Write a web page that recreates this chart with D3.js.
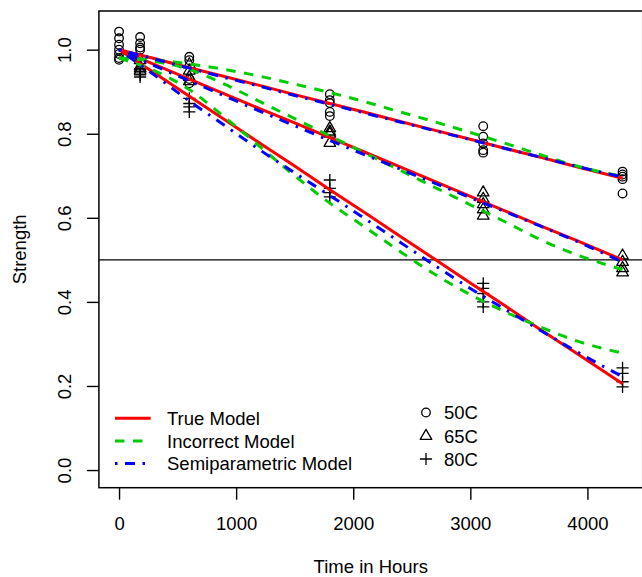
<!DOCTYPE html>
<html>
<head>
<meta charset="utf-8">
<script src="https://cdn.jsdelivr.net/npm/d3@7"></script>
<style>
  html, body { margin: 0; padding: 0; background: #ffffff; }
  svg { display: block; }
  text { font-family: "Liberation Sans", Arial, Helvetica, sans-serif; fill: #000; }
</style>
</head>
<body>
<svg id="chart" width="642" height="577"></svg>
<script>
// ---------------- data ----------------
const obsTimes = [0, 180, 600, 1800, 3110, 4300];
// observed strengths per observation time (one inner list per time)
const obs50C = [[1.043, 1.027, 1.012, 1.0, 0.99, 0.98, 0.976], [1.03, 1.015, 1.005, 1.0], [0.983, 0.975, 0.93, 0.92], [0.894, 0.88, 0.873, 0.852, 0.842], [0.818, 0.793, 0.777, 0.761, 0.755], [0.71, 0.703, 0.698, 0.692, 0.658]];
const obs65C = [[], [0.975, 0.96, 0.955, 0.95], [0.965, 0.95, 0.935, 0.925], [0.813, 0.805, 0.80, 0.778], [0.66, 0.645, 0.632, 0.62, 0.605], [0.51, 0.495, 0.48, 0.47]];
const obs80C = [[], [0.955, 0.948, 0.94, 0.935], [0.884, 0.872, 0.864, 0.852], [0.69, 0.67, 0.66, 0.65], [0.444, 0.432, 0.42, 0.40, 0.388], [0.243, 0.23, 0.21, 0.198]];

// fitted model curves
const modelTimes = [0, 300, 600, 900, 1200, 1500, 1800, 2100, 2400, 2700, 3000, 3300, 3600, 3900, 4300];
const true50C = [1.0, 0.979, 0.957, 0.936, 0.915, 0.893, 0.872, 0.851, 0.829, 0.808, 0.787, 0.765, 0.744, 0.722, 0.694];
const true65C = [1.0, 0.965, 0.930, 0.895, 0.860, 0.826, 0.791, 0.756, 0.721, 0.686, 0.651, 0.616, 0.581, 0.547, 0.500];
const true80C = [1.0, 0.945, 0.889, 0.834, 0.778, 0.723, 0.667, 0.612, 0.556, 0.501, 0.445, 0.390, 0.334, 0.279, 0.205];
const incorrect50C = [0.98, 0.976, 0.966, 0.953, 0.937, 0.918, 0.898, 0.876, 0.852, 0.828, 0.803, 0.777, 0.75, 0.724, 0.698];
const incorrect65C = [0.98, 0.972, 0.953, 0.918, 0.877, 0.836, 0.795, 0.754, 0.713, 0.672, 0.631, 0.59, 0.548, 0.513, 0.477];
const incorrect80C = [0.98, 0.95, 0.905, 0.84, 0.77, 0.70, 0.635, 0.578, 0.52, 0.465, 0.417, 0.376, 0.34, 0.308, 0.278];
const semi50C = [1.0, 0.978, 0.956, 0.934, 0.913, 0.891, 0.870, 0.849, 0.828, 0.807, 0.786, 0.765, 0.744, 0.723, 0.697];
const semi65C = [1.0, 0.962, 0.926, 0.89, 0.854, 0.819, 0.784, 0.75, 0.716, 0.682, 0.648, 0.614, 0.58, 0.545, 0.495];
const semi80C = [1.0, 0.94, 0.878, 0.82, 0.762, 0.707, 0.653, 0.598, 0.542, 0.486, 0.432, 0.382, 0.332, 0.283, 0.222];

const xTicks = [0, 1000, 2000, 3000, 4000];
const yTicks = [0.0, 0.2, 0.4, 0.6, 0.8, 1.0];
const refLevel = 0.5;
const modelNames = ["True Model", "Incorrect Model", "Semiparametric Model"];
const tempNames = ["50C", "65C", "80C"];

// ---------------- layout ----------------
const svg = d3.select("#chart");
const W = 642, H = 577;
svg.append("rect").attr("width", W).attr("height", H).attr("fill", "#fff");

const plot = { left: 98.9, right: 642.7, top: 11, bottom: 487.7 };
const x = d3.scaleLinear().domain([-172, 4472]).range([plot.left, plot.right]);
const y = d3.scaleLinear().domain([-0.042, 1.092]).range([plot.bottom, plot.top]);

const FS = 18.5;
const colors = { truth: "#FF0000", incorrect: "#00CD00", semi: "#0000FF" };
const dashes = { truth: null, incorrect: "9.5 8.5", semi: "2.5 7.5 10 7.5" };

svg.append("clipPath").attr("id", "clip").append("rect")
  .attr("x", plot.left).attr("y", plot.top)
  .attr("width", plot.right - plot.left).attr("height", plot.bottom - plot.top);

// ---------------- axes ----------------
const xAxis = d3.axisBottom(x).tickValues(xTicks).tickFormat(d3.format("d"))
  .tickSize(12).tickPadding(17);
const gx = svg.append("g").attr("transform", `translate(0,${plot.bottom})`).call(xAxis);
gx.select(".domain").remove();
gx.selectAll(".tick line").attr("stroke", "#000").attr("stroke-width", 1.4);
gx.selectAll(".tick text").attr("font-size", FS).attr("font-family", "Liberation Sans, Arial, sans-serif").attr("fill", "#000");

const yAxis = d3.axisLeft(y).tickValues(yTicks).tickFormat(d3.format(".1f")).tickSize(12);
const gy = svg.append("g").attr("transform", `translate(${plot.left},0)`).call(yAxis);
gy.select(".domain").remove();
gy.selectAll(".tick line").attr("stroke", "#000").attr("stroke-width", 1.4);
gy.selectAll(".tick text")
  .attr("font-size", FS).attr("font-family", "Liberation Sans, Arial, sans-serif").attr("fill", "#000")
  .attr("x", null).attr("dy", null).attr("y", null)
  .attr("text-anchor", "middle")
  .attr("transform", `translate(${70.7 - plot.left},0) rotate(-90)`);

svg.append("text").attr("x", (plot.left + plot.right) / 2).attr("y", 572.5)
  .attr("text-anchor", "middle").attr("font-size", FS).text("Time in Hours");
svg.append("text").attr("transform", `translate(25.7,${(plot.top + plot.bottom) / 2}) rotate(-90)`)
  .attr("text-anchor", "middle").attr("font-size", FS).text("Strength");

// ---------------- symbols ----------------
const R0 = 4.3;
function drawSymbol(g, kind, cx, cy) {
  if (kind === 0) {
    g.append("circle").attr("cx", cx).attr("cy", cy).attr("r", R0)
      .attr("fill", "none").attr("stroke", "#000").attr("stroke-width", 1.3);
  } else if (kind === 1) {
    const r = 1.5551 * R0, yc = 0.7775 * R0, xc = 1.3468 * R0;
    g.append("path").attr("d", `M${cx},${cy - r}L${cx + xc},${cy + yc}L${cx - xc},${cy + yc}Z`)
      .attr("fill", "none").attr("stroke", "#000").attr("stroke-width", 1.3).attr("stroke-linejoin", "round");
  } else {
    const s = Math.SQRT2 * R0;
    g.append("path").attr("d", `M${cx - s},${cy}H${cx + s}M${cx},${cy - s}V${cy + s}`)
      .attr("fill", "none").attr("stroke", "#000").attr("stroke-width", 1.3);
  }
}

const gPts = svg.append("g").attr("clip-path", "url(#clip)");
[obs50C, obs65C, obs80C].forEach((series, k) => {
  series.forEach((vals, i) => {
    vals.forEach(v => drawSymbol(gPts, k, x(obsTimes[i]), y(v)));
  });
});

// ---------------- reference line ----------------
svg.append("line").attr("x1", plot.left).attr("x2", plot.right)
  .attr("y1", y(refLevel)).attr("y2", y(refLevel))
  .attr("stroke", "#000").attr("stroke-width", 1.4);

// ---------------- model curves ----------------
const gLines = svg.append("g").attr("clip-path", "url(#clip)");
const lineLinear = d3.line().x((d, i) => x(modelTimes[i])).y(d => y(d));
const lineSmooth = d3.line().x((d, i) => x(modelTimes[i])).y(d => y(d)).curve(d3.curveMonotoneX);

function drawModel(vals, key, gen) {
  const p = gLines.append("path").attr("d", gen(vals))
    .attr("fill", "none").attr("stroke", colors[key]).attr("stroke-width", 3);
  if (dashes[key]) p.attr("stroke-dasharray", dashes[key]);
}
[true50C, true65C, true80C].forEach(v => drawModel(v, "truth", lineLinear));
[incorrect50C, incorrect65C, incorrect80C].forEach(v => drawModel(v, "incorrect", lineSmooth));
[semi50C, semi65C, semi80C].forEach(v => drawModel(v, "semi", lineSmooth));

// ---------------- legends ----------------
const legY = [418.3, 441, 463.5];
["truth", "incorrect", "semi"].forEach((key, i) => {
  const l = svg.append("line").attr("x1", 115).attr("x2", 150.7)
    .attr("y1", legY[i]).attr("y2", legY[i])
    .attr("stroke", colors[key]).attr("stroke-width", 3);
  if (dashes[key]) l.attr("stroke-dasharray", dashes[key]);
  svg.append("text").attr("x", 167).attr("y", legY[i] + 6.6)
    .attr("font-size", FS).text(modelNames[i]);
});

const leg2Y = [412.5, 436, 459];
tempNames.forEach((name, i) => {
  drawSymbol(svg, i, 426, leg2Y[i]);
  svg.append("text").attr("x", 444).attr("y", leg2Y[i] + 6.6)
    .attr("font-size", FS).text(name);
});

// ---------------- box ----------------
svg.append("rect").attr("x", plot.left).attr("y", plot.top)
  .attr("width", plot.right - plot.left).attr("height", plot.bottom - plot.top)
  .attr("fill", "none").attr("stroke", "#000").attr("stroke-width", 1.5);
</script>
</body>
</html>
